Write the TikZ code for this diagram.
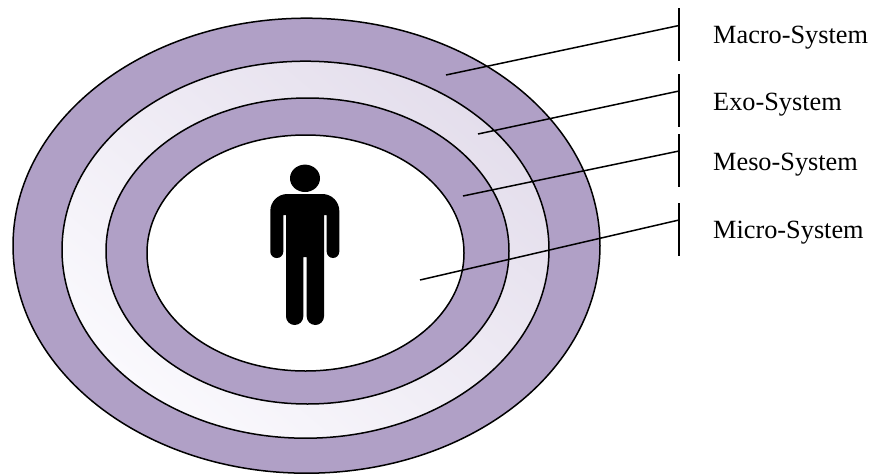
\documentclass[tikz,border=0pt]{standalone}
\usepackage{fontspec}
\setmainfont{Liberation Serif}
\definecolor{ringpurple}{HTML}{B0A0C6}
\definecolor{ringlight}{HTML}{FAF9FD}
\definecolor{ringdark}{HTML}{E4DEEC}
\tikzset{
  ring/.style={draw=black,line width=1.5pt},
  tick/.style={draw=black,line width=1.5pt},
  leader/.style={draw=black,line width=1.5pt},
  lab/.style={anchor=base west,inner sep=0pt,font=\fontsize{26.3}{30}\selectfont}
}
\begin{document}
\begin{tikzpicture}[x=1pt,y=-1pt]
\useasboundingbox (0,0) rectangle (873,474);
\path[ring,fill=ringpurple] (306.5,245.7) ellipse [x radius=293.5,y radius=227.5];
\shade[ring,bottom color=ringlight,top color=ringdark,shading angle=-40] (305.5,249.7) ellipse [x radius=243.5,y radius=188.5];
\path[ring,fill=ringpurple] (307.5,251) ellipse [x radius=201.5,y radius=153];
\path[ring,fill=white] (305.5,253) ellipse [x radius=158.5,y radius=118];
% person
\fill[black] (305,178.3) ellipse [x radius=15,y radius=13.7];
\fill[black] (270.3,230) [rounded corners=17pt] -- (270.3,194) -- (339.3,194) [rounded corners=6.4pt] -- (339.3,258) -- (326.7,258) [sharp corners] -- (326.7,215) -- (324,215) [rounded corners=8.6pt] -- (324,325) -- (306.7,325) [sharp corners] -- (306.7,257) -- (303.3,257) [rounded corners=8.6pt] -- (303.3,325) -- (286,325) [sharp corners] -- (286,215) -- (283.3,215) [rounded corners=6.4pt] -- (283.3,258) -- (270.3,258) [sharp corners] -- cycle;
% ticks and leaders
\coordinate (macroA) at (446,75);  \coordinate (macroB) at (679,25.5);
\coordinate (exoA) at (478,134);   \coordinate (exoB) at (679,91);
\coordinate (mesoA) at (463,196);  \coordinate (mesoB) at (679,151);
\coordinate (microA) at (420,280); \coordinate (microB) at (679,220);
\coordinate (macroT) at (679,8);   \coordinate (macroU) at (679,61);
\coordinate (exoT) at (679,74);    \coordinate (exoU) at (679,127);
\coordinate (mesoT) at (679,134);  \coordinate (mesoU) at (679,187);
\coordinate (microT) at (679,203); \coordinate (microU) at (679,256);
\draw[tick] (macroT) -- (macroU);
\draw[tick] (exoT) -- (exoU);
\draw[tick] (mesoT) -- (mesoU);
\draw[tick] (microT) -- (microU);
\draw[leader] (macroA) -- (macroB);
\draw[leader] (exoA) -- (exoB);
\draw[leader] (mesoA) -- (mesoB);
\draw[leader] (microA) -- (microB);
\node[lab] (macro) at (713,43.5) {Macro-System};
\node[lab] (exo) at (713,110) {Exo-System};
\node[lab] (meso) at (713,170) {Meso-System};
\node[lab] (micro) at (713,238.5) {Micro-System};
\end{tikzpicture}
\end{document}
